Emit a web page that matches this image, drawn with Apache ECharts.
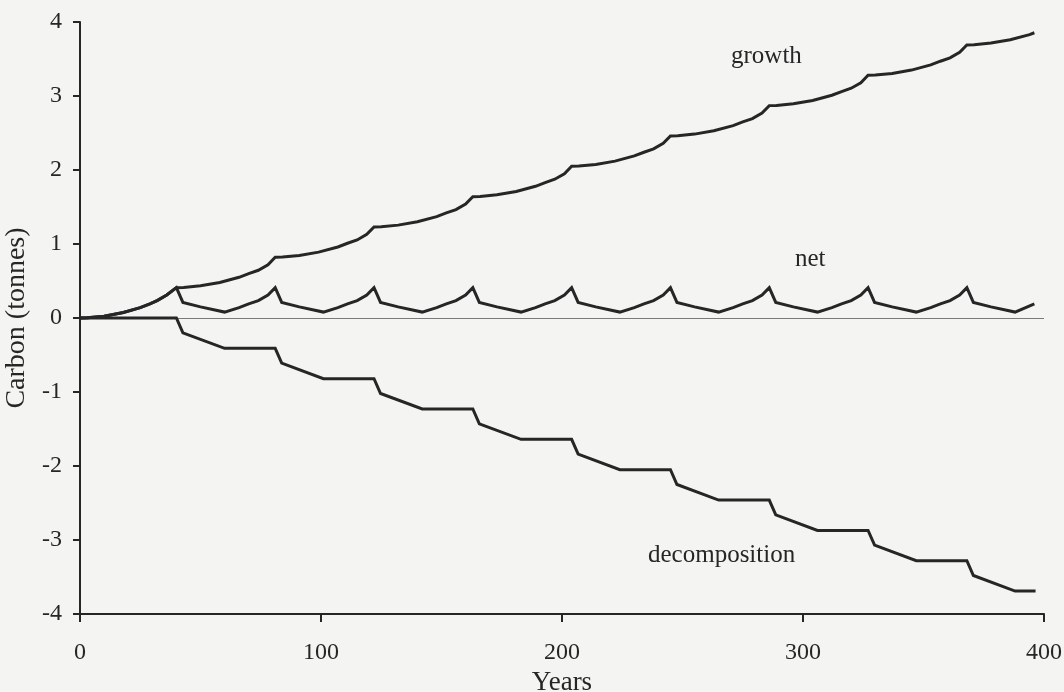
<!DOCTYPE html>
<html>
<head>
<meta charset="utf-8">
<title>Carbon balance over rotations</title>
<script src="https://cdn.jsdelivr.net/npm/echarts/dist/echarts.min.js"></script>
<style>
  html, body { margin: 0; padding: 0; background: #f4f4f2; }
  #chart { width: 1064px; height: 692px; }
</style>
</head>
<body>
<div id="chart"></div>
<script>
// [year, tonnes of carbon]
const growth = [
  [0, 0], [3, 0.003], [10, 0.025], [18, 0.075], [25, 0.14], [29, 0.19], [32, 0.235], [36, 0.31], [40, 0.41],
  [43, 0.413], [50, 0.435], [58, 0.48], [66, 0.55], [70, 0.6], [74, 0.645], [78, 0.72], [81, 0.82],
  [84, 0.823], [91, 0.845], [99, 0.89], [107, 0.96], [111, 1.01], [115, 1.055], [119, 1.13], [122, 1.23],
  [125, 1.233], [132, 1.255], [140, 1.3], [148, 1.37], [152, 1.42], [156, 1.465], [160, 1.54], [163, 1.64],
  [166, 1.643], [173, 1.665], [181, 1.71], [189, 1.78], [193, 1.83], [197, 1.875], [201, 1.95], [204, 2.05],
  [207, 2.053], [214, 2.075], [222, 2.12], [230, 2.19], [234, 2.24], [238, 2.285], [242, 2.36], [245, 2.46],
  [248, 2.463], [255, 2.485], [263, 2.53], [271, 2.6], [275, 2.65], [279, 2.695], [283, 2.77], [286, 2.87],
  [289, 2.873], [296, 2.895], [304, 2.94], [312, 3.01], [316, 3.06], [320, 3.105], [324, 3.18], [327, 3.28],
  [330, 3.283], [337, 3.305], [345, 3.35], [353, 3.42], [357, 3.47], [361, 3.515], [365, 3.59], [368, 3.69],
  [371, 3.693], [378, 3.715], [386, 3.76], [394, 3.83], [396, 3.855]
];

const net = [
  [0, 0], [3, 0.003], [10, 0.025], [18, 0.075], [25, 0.14], [29, 0.19], [32, 0.235], [36, 0.31], [40, 0.41],
  [42.7, 0.21], [50, 0.15], [60, 0.08], [66, 0.14], [70, 0.19], [74, 0.235], [78, 0.31], [81, 0.41],
  [83.7, 0.21], [91, 0.15], [101, 0.08], [107, 0.14], [111, 0.19], [115, 0.235], [119, 0.31], [122, 0.41],
  [124.7, 0.21], [132, 0.15], [142, 0.08], [148, 0.14], [152, 0.19], [156, 0.235], [160, 0.31], [163, 0.41],
  [165.7, 0.21], [173, 0.15], [183, 0.08], [189, 0.14], [193, 0.19], [197, 0.235], [201, 0.31], [204, 0.41],
  [206.7, 0.21], [214, 0.15], [224, 0.08], [230, 0.14], [234, 0.19], [238, 0.235], [242, 0.31], [245, 0.41],
  [247.7, 0.21], [255, 0.15], [265, 0.08], [271, 0.14], [275, 0.19], [279, 0.235], [283, 0.31], [286, 0.41],
  [288.7, 0.21], [296, 0.15], [306, 0.08], [312, 0.14], [316, 0.19], [320, 0.235], [324, 0.31], [327, 0.41],
  [329.7, 0.21], [337, 0.15], [347, 0.08], [353, 0.14], [357, 0.19], [361, 0.235], [365, 0.31], [368, 0.41],
  [370.7, 0.21], [378, 0.15], [388, 0.08], [396, 0.19]
];

const decomposition = [
  [0, 0], [40, 0], [42.7, -0.2], [60, -0.41],
  [81, -0.41], [83.7, -0.61], [101, -0.82],
  [122, -0.82], [124.7, -1.02], [142, -1.23],
  [163, -1.23], [165.7, -1.43], [183, -1.64],
  [204, -1.64], [206.7, -1.84], [224, -2.05],
  [245, -2.05], [247.7, -2.25], [265, -2.46],
  [286, -2.46], [288.7, -2.66], [306, -2.87],
  [327, -2.87], [329.7, -3.07], [347, -3.28],
  [368, -3.28], [370.7, -3.48], [388, -3.69],
  [396.5, -3.69]
];

const seriesNames = ['growth', 'net', 'decomposition'];

const FONT = '"Liberation Serif", "Times New Roman", serif';
const INK = '#262626';

const chart = echarts.init(document.getElementById('chart'));

function lineSeries(name, data) {
  return {
    name: name,
    type: 'line',
    data: data,
    showSymbol: false,
    silent: true,
    animation: false,
    lineStyle: { color: INK, width: 3, join: 'miter' },
    z: 3
  };
}

const series = [
  lineSeries(seriesNames[0], growth),
  lineSeries(seriesNames[1], net),
  lineSeries(seriesNames[2], decomposition)
];

// thin zero reference line
series[0].markLine = {
  silent: true,
  symbol: 'none',
  label: { show: false },
  lineStyle: { color: '#7a7a7a', width: 1.2, type: 'solid' },
  data: [{ yAxis: 0 }],
  z: 1
};

chart.setOption({
  backgroundColor: '#f4f4f2',
  animation: false,
  grid: { left: 80, right: 20, top: 22, bottom: 78, outerBoundsMode: 'none', containLabel: false },
  xAxis: {
    type: 'value',
    min: 0,
    max: 400,
    interval: 100,
    name: 'Years',
    nameLocation: 'middle',
    nameGap: 53,
    nameTextStyle: { fontFamily: FONT, fontSize: 27, color: INK },
    axisLine: { onZero: false, lineStyle: { color: INK, width: 2 } },
    axisTick: { length: 8, lineStyle: { color: INK, width: 2 } },
    axisLabel: { margin: 27, fontFamily: FONT, fontSize: 24, color: INK },
    splitLine: { show: false }
  },
  yAxis: {
    type: 'value',
    min: -4,
    max: 4,
    interval: 1,
    name: 'Carbon (tonnes)',
    nameLocation: 'middle',
    nameGap: 41,
    nameTextStyle: { fontFamily: FONT, fontSize: 28, color: INK },
    axisLine: { lineStyle: { color: INK, width: 2 } },
    axisTick: { length: 7, lineStyle: { color: INK, width: 2 } },
    axisLabel: { margin: 18, fontFamily: FONT, fontSize: 24, color: INK },
    splitLine: { show: false }
  },
  graphic: [
    { type: 'text', left: 731, top: 44, style: { text: seriesNames[0], font: '25px ' + FONT, fill: INK } },
    { type: 'text', left: 795, top: 247, style: { text: seriesNames[1], font: '25px ' + FONT, fill: INK } },
    { type: 'text', left: 648, top: 543, style: { text: seriesNames[2], font: '25px ' + FONT, fill: INK } }
  ],
  series: series
});
</script>
</body>
</html>
